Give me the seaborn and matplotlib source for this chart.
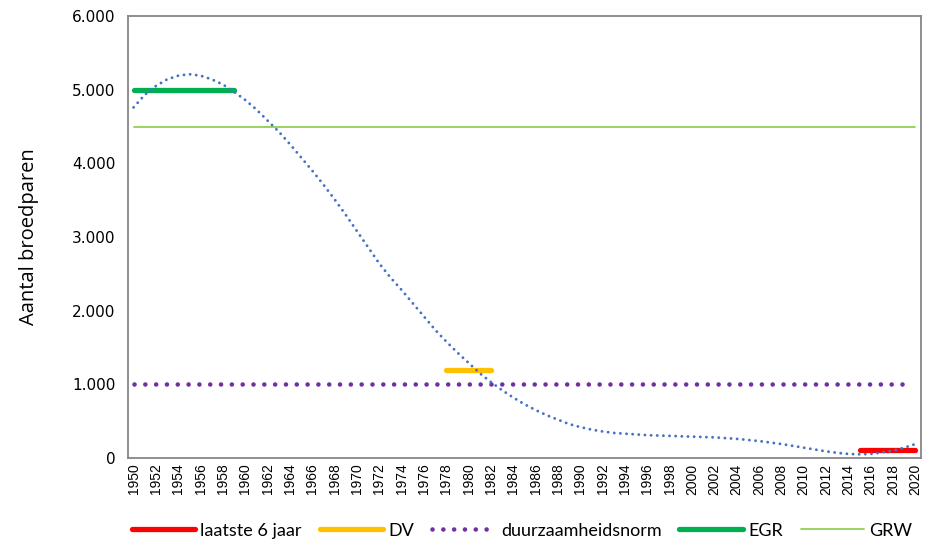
import matplotlib
matplotlib.use("Agg")
import matplotlib.pyplot as plt
import matplotlib.ticker as mticker
import numpy as np
import pandas as pd
import seaborn as sns

# ---- data ----
years = list(range(1950, 2021))
trend = [4760, 4930, 5050, 5140, 5190, 5210, 5190, 5140, 5070, 4970,
         4860, 4730, 4580, 4430, 4260, 4080, 3900, 3710, 3510, 3300,
         3080, 2860, 2640, 2450, 2280, 2100, 1920, 1740, 1580, 1430,
         1290, 1150, 1030, 920, 820, 730, 650, 580, 520, 460,
         420, 385, 360, 340, 330, 320, 310, 305, 300, 295,
         290, 285, 280, 270, 260, 245, 230, 210, 190, 165,
         140, 115, 90, 70, 55, 50, 55, 75, 100, 140, 190]

recent_years = [2015, 2020]
recent_vals = [110, 110]
dv_years = [1978, 1982]
dv_vals = [1200, 1200]
norm_years = [1950, 2019]
norm_vals = [1000, 1000]
egr_years = [1950, 1959]
egr_vals = [5000, 5000]
grw_years = [1950, 2020]
grw_vals = [4500, 4500]

labels = ["laatste 6 jaar", "DV", "duurzaamheidsnorm", "EGR", "GRW"]
ylabel = "Aantal broedparen"

# ---- plot ----
sns.set_style("white")
plt.rcParams["font.family"] = ["DejaVu Sans"]
plt.rcParams["text.color"] = "black"
plt.rcParams["axes.labelcolor"] = "black"
plt.rcParams["xtick.labelcolor"] = "black"
plt.rcParams["ytick.labelcolor"] = "black"

fig = plt.figure(figsize=(9.44, 5.55), dpi=100)
ax = fig.add_axes([128 / 944, 1 - 458 / 555, (921 - 128) / 944, (458 - 16) / 555])

sns.lineplot(x=grw_years, y=grw_vals, ax=ax, color="#92D050", linewidth=1.3,
             label=labels[4], zorder=2)
sns.lineplot(x=norm_years, y=norm_vals, ax=ax, color="#7030A0", linewidth=3.3,
             linestyle=(0, (0.01, 2.35)), dash_capstyle="round",
             label=labels[2], zorder=3)
sns.lineplot(x=egr_years, y=egr_vals, ax=ax, color="#00B050", linewidth=3.8,
             solid_capstyle="round", label=labels[3], zorder=3)
sns.lineplot(x=dv_years, y=dv_vals, ax=ax, color="#FFC000", linewidth=3.8,
             solid_capstyle="round", label=labels[1], zorder=3)
sns.lineplot(x=recent_years, y=recent_vals, ax=ax, color="#FF0000", linewidth=3.8,
             solid_capstyle="round", label=labels[0], zorder=3)
sns.lineplot(x=years, y=trend, ax=ax, color="#4472C4", linewidth=2.1,
             linestyle=(0, (0.01, 2.1)), dash_capstyle="round",
             legend=False, zorder=4)

handles, lbls = ax.get_legend_handles_labels()
hmap = dict(zip(lbls, handles))
ax.get_legend().remove()

ax.set_xlim(1949.5, 2020.5)
ax.set_ylim(0, 6000)
ax.yaxis.set_major_locator(mticker.MultipleLocator(1000))
ax.yaxis.set_major_formatter(mticker.FuncFormatter(
    lambda v, p: f"{v:,.0f}".replace(",", ".")))

ax.set_xticks(list(range(1950, 2021, 2)))
ax.set_xticklabels([str(y) for y in range(1950, 2021, 2)], rotation=90,
                   family="Liberation Sans", fontsize=10)
ax.set_xticks(np.arange(1949.5, 2021, 1.0), minor=True)
ax.tick_params(axis="x", which="major", length=0, pad=4, labelcolor="black")
ax.tick_params(axis="x", which="minor", length=5, width=1.2, color="#868686")
ax.tick_params(axis="y", which="major", length=5, width=1.2, color="#868686",
               labelsize=11, pad=4, labelcolor="black")

for s in ax.spines.values():
    s.set_visible(True)
    s.set_color("#868686")
    s.set_linewidth(1.3)

ax.set_ylabel(ylabel, family="Open Sans", fontsize=14.5, labelpad=24,
              color="black")
ax.set_xlabel("")
ax.grid(False)

fig.legend([hmap[l] for l in labels], labels, loc="lower center",
           bbox_to_anchor=(0.553, 0.0), ncol=5, frameon=False,
           prop={"family": "Lato", "size": 13}, handlelength=3.5,
           handletextpad=0.3, columnspacing=1.0, labelcolor="black")

fig.savefig("out.png", dpi=100)
